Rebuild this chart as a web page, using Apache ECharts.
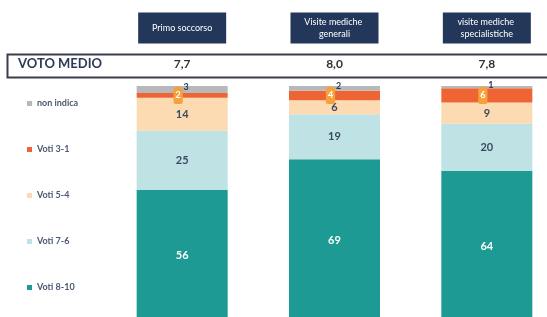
<!doctype html>
<html lang="it">
<head>
    <meta charset="utf-8">
    <title>Voto medio</title>
    <script src="https://cdn.jsdelivr.net/npm/echarts@6/dist/echarts.min.js"></script>
    <style>
        html, body { margin: 0; padding: 0; background: #fff; }
        #main { width: 547px; height: 317px; }
    </style>
</head>
<body>
<div id="main"></div>
<script>
    // categorie (servizi) e voto medio
    var categorie = ['Primo soccorso', 'Visite mediche generali', 'visite mediche specialistiche'];
    var votoMedio = ['7,7', '8,0', '7,8'];

    // percentuali per fascia di voto
    var voti8_10 = [56, 69, 64];
    var voti7_6 = [25, 19, 20];
    var voti5_4 = [14, 6, 9];
    var voti3_1 = [2, 4, 6];
    var nonIndica = [3, 2, 1];

    var font = 'Lato';
    var chart = echarts.init(document.getElementById('main'));

    function serie(nome, dati, colore, label) {
        return {
            name: nome,
            type: 'bar',
            stack: 'tot',
            barWidth: 91,
            data: dati,
            itemStyle: { color: colore },
            label: label
        };
    }

    chart.setOption({
        animation: false,
        grid: { left: 106, width: 457, top: 86, height: 236, outerBoundsMode: 'none' },
        legend: {
            orient: 'vertical',
            left: 22,
            top: 94,
            itemWidth: 5,
            itemHeight: 5,
            itemGap: 37,
            icon: 'rect',
            data: ['non indica', 'Voti 3-1', 'Voti 5-4', 'Voti 7-6', 'Voti 8-10'],
            textStyle: { fontFamily: font, fontSize: 9, fontWeight: 'bold', color: '#4a5872' }
        },
        xAxis: [{
            type: 'category',
            position: 'top',
            data: categorie,
            axisLine: { show: false },
            axisTick: { show: false },
            axisLabel: {
                margin: 58,
                color: '#fff',
                fontFamily: font,
                fontSize: 9,
                lineHeight: 12,
                backgroundColor: '#23375b',
                width: 78,
                height: 25,
                padding: [3, 5],
                overflow: 'break',
                align: 'center',
                verticalAlign: 'middle'
            }
        }, {
            type: 'category',
            position: 'top',
            data: votoMedio,
            axisLine: { show: false },
            axisTick: { show: false },
            axisLabel: {
                margin: 16,
                color: '#333',
                fontFamily: font,
                fontSize: 12,
                fontWeight: 'bold'
            }
        }],
        yAxis: {
            type: 'value',
            min: 0,
            max: 100,
            show: false
        },
        graphic: [{
            type: 'rect',
            left: 5,
            top: 52,
            shape: { width: 560, height: 23 },
            style: { fill: 'none', stroke: '#3c3c4c', lineWidth: 2 }
        }, {
            type: 'text',
            left: 18,
            top: 57,
            style: { text: 'VOTO MEDIO', fontFamily: font, fontSize: 13, fontWeight: 'bold', fill: '#2c3a58' }
        }],
        series: [
            serie('Voti 8-10', voti8_10, '#1c9a93', {
                show: true, color: '#fff', fontFamily: font, fontSize: 11, fontWeight: 'bold'
            }),
            serie('Voti 7-6', voti7_6, '#bfe2e4', {
                show: true, color: '#3a4a60', fontFamily: font, fontSize: 11, fontWeight: 'bold'
            }),
            serie('Voti 5-4', voti5_4, '#fcdbb3', {
                show: true, color: '#3a4a60', fontFamily: font, fontSize: 11, fontWeight: 'bold'
            }),
            serie('Voti 3-1', voti3_1, '#ee6433', {
                show: true, position: 'inside', offset: [-4, 0], color: '#fff',
                backgroundColor: '#f6a13c', borderRadius: 2, padding: [4, 2],
                fontFamily: font, fontSize: 9, fontWeight: 'bold'
            }),
            serie('non indica', nonIndica, '#b6b8ba', {
                show: true, position: 'inside', offset: [4, -2], color: '#2b3a55',
                fontFamily: font, fontSize: 9, fontWeight: 'bold'
            })
        ]
    });
</script>
</body>
</html>
